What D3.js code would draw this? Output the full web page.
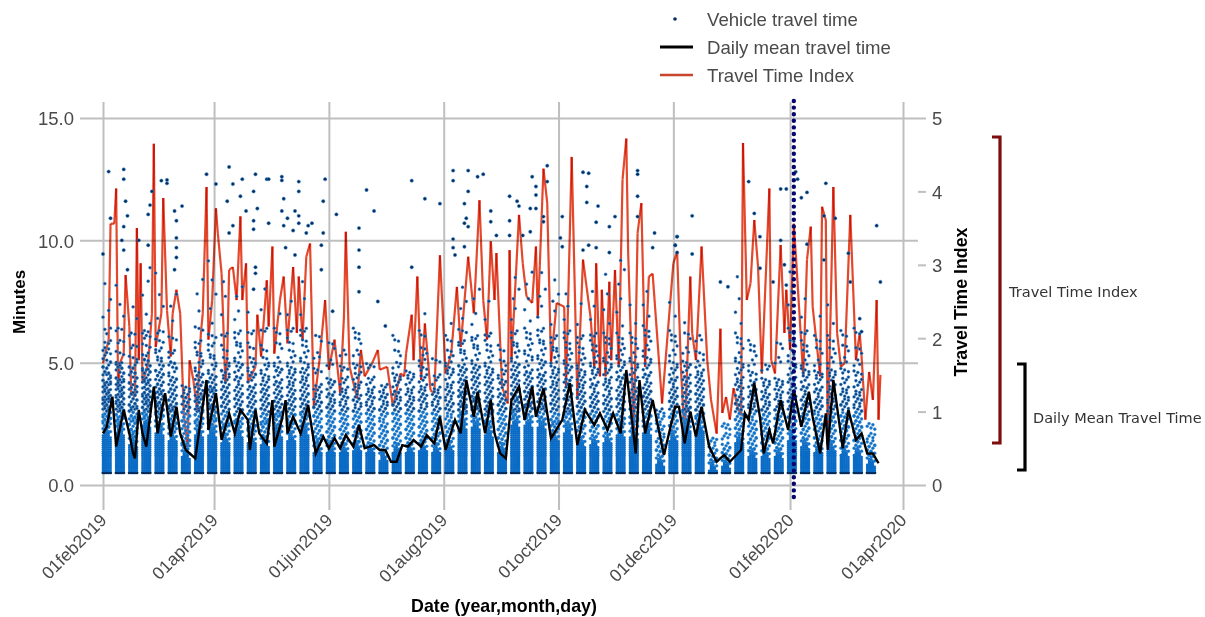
<!DOCTYPE html>
<html>
<head>
<meta charset="utf-8">
<script src="https://cdn.jsdelivr.net/npm/d3@7"></script>
<style>
  html, body { margin: 0; padding: 0; background: #fff; }
  svg { display: block; filter: blur(0.55px); }
  text { font-family: "Liberation Sans", Arial, sans-serif; }
</style>
</head>
<body>
<div id="chart"></div>
<script>
const width = 1205, height = 617;

// tick labels
const dateTicks = ["01feb2019","01apr2019","01jun2019","01aug2019","01oct2019","01dec2019","01feb2020","01apr2020"];
const minuteTicks = [0, 5, 10, 15];
const indexTicks = [0, 1, 2, 3, 4, 5];
const markerDay = 367; // dotted vertical line

// Travel Time Index (days after 01feb2019)
const ttiDays = [0,3,4,6,7,8,9,11,12,14,15,17,18,19,20,21,24,26,27,28,31,32,34,36,37,39,41,43,45,46,48,50,52,53,55,56,58,60,61,63,65,66,67,69,71,73,74,76,77,81,82,84,87,88,90,91,94,96,98,101,103,104,106,108,110,112,115,118,120,123,126,128,129,131,135,137,139,143,146,147,151,154,158,160,161,164,165,167,169,171,174,176,179,182,185,188,190,194,197,200,202,204,206,208,209,212,215,216,217,221,223,225,228,230,231,234,236,238,241,245,246,249,252,255,259,261,262,264,265,267,269,270,272,274,276,278,279,282,284,286,288,290,292,297,303,305,307,309,312,313,315,318,321,323,326,328,329,331,333,335,337,339,340,342,344,346,348,350,354,355,357,360,362,363,365,367,369,372,374,376,377,381,382,384,385,388,390,392,394,397,400,402,403,405,407,409,411,412,413];
const ttiValues = [1.66,1.98,3.56,3.56,4.04,1.34,1.66,1.79,2.86,2.16,1.25,1.2,3.5,1.7,3.02,1.39,1.66,2.34,4.65,1.88,2.34,3.91,2.38,1.75,2.34,2.66,2.34,0.93,0.52,1.7,1.43,1.02,2.07,2.34,4.06,1.98,2.52,3.77,3.43,2.88,1.39,1.75,2.93,2.97,2.52,3.66,2.52,3.02,1.39,1.61,2.32,1.75,2.79,2.16,3.25,1.79,2.52,2.84,1.93,2.97,2.07,2.84,1.98,3.11,3.29,1.07,1.7,2.52,1.57,1.98,1.25,2.29,3.45,1.61,1.18,1.84,1.48,1.66,1.84,1.57,1.61,1.07,1.52,1.48,1.79,2.32,1.7,2.84,1.43,2.2,1.29,1.25,3.13,1.52,1.79,2.7,1.88,3.11,2.34,3.88,2.52,1.98,3.32,2.52,3.16,1.34,1.11,3.2,1.7,3.68,3.02,2.57,2.48,3.25,2.29,4.31,3.84,1.66,2.48,2.43,1.34,4.47,1.16,3.07,2.29,1.61,3.02,1.48,2.66,1.48,2.77,1.7,2.93,1.61,4.16,4.72,3.16,0.7,3.43,3.84,1.61,2.84,2.88,1.11,3.02,3.18,1.61,0.61,2.84,2.07,1.7,3.25,1.7,1.16,0.7,2.13,0.98,1.2,0.89,1.32,1.07,0.95,4.66,2.52,2.75,3.61,2.97,1.52,4.04,1.7,1.52,3.27,2.07,2.66,1.84,3.56,2.75,1.48,3.07,3.52,2.43,1.48,3.79,3.61,0.57,4.06,2.07,1.61,1.66,3.68,1.7,2.07,1.75,0.89,1.54,1.16,2.52,0.89,1.5];

// Daily mean travel time (minutes)
const meanDays = [0,2,5,7,11,14,16,17,19,21,23,27,29,33,36,39,41,44,49,55,56,60,63,67,70,73,77,78,81,83,87,90,91,95,97,98,101,105,109,113,117,120,123,126,129,133,136,139,144,147,150,153,156,159,162,165,169,172,176,179,182,187,190,193,197,199,203,206,208,211,214,217,221,224,228,230,234,238,244,248,252,256,261,264,268,271,275,278,283,285,288,292,298,304,306,309,312,315,318,322,326,330,333,339,341,343,346,349,351,354,356,360,364,367,371,375,377,381,384,385,388,393,396,400,403,406,409,412];
const meanValues = [2.11,2.38,3.61,1.57,3.07,2.11,1.29,1.09,3.07,2.11,1.57,4.02,2.11,3.75,1.98,3.2,2.11,1.43,1.09,4.29,2.25,3.75,1.84,2.93,2.11,3.07,2.66,1.43,3.07,2.11,1.7,3.47,1.57,2.66,3.47,2.11,2.79,2.11,3.27,1.29,1.98,1.5,1.91,1.5,2.04,1.57,2.45,1.5,1.63,1.43,1.43,0.95,0.95,1.63,1.57,1.84,1.57,2.04,1.7,2.79,1.43,2.66,2.11,4.29,2.79,3.81,2.11,3.47,2.11,1.29,1.09,3.47,4.02,2.66,4.02,2.79,3.95,1.91,2.66,4.16,1.63,3.07,2.45,2.93,2.25,2.93,2.11,4.7,1.29,4.29,2.11,3.47,1.23,3.2,3.2,1.7,3,1.98,3.2,1.57,0.95,1.23,0.95,1.43,2.93,2.66,4.16,2.79,1.29,2.25,1.7,3.47,2.25,3.88,2.38,3.81,2.79,1.29,2.93,1.43,4.29,1.5,3.07,1.84,2.11,1.29,1.29,0.89];

// Vehicle travel times: solid band at the bottom of each weekly column
const baseLevels = [0.5,0.58,0.66,0.74,0.82,0.9,0.98,1.06,1.14,1.22,1.3,1.38,1.46,1.54,1.62,1.7,1.78,1.86,1.94,2.02,2.1,2.18,2.26,2.34,2.42,2.5,2.58];
const baseTop = [2.2,2.3,1.8,2.6,2.3,2.0,1.3,2.2,2.2,1.9,2.2,1.9,1.8,2.2,2.0,2.3,1.5,1.5,1.5,1.6,1.5,1.2,1.5,1.5,1.6,1.5,1.6,2.5,2.5,2.2,1.5,2.6,2.6,2.5,2.0,2.3,1.8,1.8,1.9,2.2,2.1,2.3,1.0,2.0,2.4,2.4,0.8,0.9,1.9,1.3,1.3,1.3,2.0,1.7,1.5,1.6,1.4,1.4,1.0];
const weekDays = [0,1,2,3,4];
const dayTopShift = [-0.15,0.1,0.2,0,-0.2];

// Vehicle travel times: scattered trips of each weekly column
const dayCycle = [1,4,2,0,3,4,1,3,0,2];
const dayWave = [0,0.11,-0.07,0.06,-0.12];
const weekTrips = [
  [2.3,2.5,2.6,2.8,2.9,3.1,3.2,3.4,3.5,3.6,3.8,3.9,4.1,4.2,4.4,4.5,4.7,4.9,5.1,5.3,5.5,5.9,6.3,6.8,7.2,7.7,8.3],
  [2.4,2.5,2.7,2.8,3.0,3.1,3.3,3.4,3.6,3.7,3.9,4.0,4.2,4.3,4.5,4.7,4.9,5.0,5.4,5.8,6.3,6.9,7.5,8.1],
  [1.9,2.1,2.2,2.4,2.6,2.7,2.9,3.1,3.2,3.4,3.6,3.8,3.9,4.1,4.3,4.5,4.7,4.9,5.2,5.6,6.1,6.8,7.4],
  [2.7,2.8,3.0,3.1,3.3,3.4,3.6,3.7,3.9,4.0,4.2,4.3,4.5,4.7,4.8,5.0,5.2,5.4,5.7,6.0,6.2,6.6,7.1,7.7,8.4,9.0],
  [2.4,2.5,2.7,2.9,3.0,3.2,3.3,3.5,3.7,3.8,4.0,4.2,4.4,4.6,4.8,5.0,5.3,5.6,5.9,6.2,6.7,7.3,7.9,8.6],
  [2.1,2.3,2.4,2.6,2.7,2.9,3.1,3.2,3.4,3.6,3.8,4.0,4.2,4.4,4.7,4.9,5.1,5.5,6.0,6.6,7.2,7.8],
  [1.4,1.6,1.7,1.9,2.1,2.3,2.5,2.7,2.9,3.1,3.3,3.5,3.7,4.0],
  [2.3,2.5,2.6,2.8,3.0,3.1,3.3,3.5,3.6,3.8,4.0,4.2,4.4,4.6,4.9,5.2,5.5,5.9,6.4,7.0,7.7,8.4],
  [2.3,2.4,2.6,2.7,2.9,3.1,3.2,3.4,3.6,3.8,3.9,4.1,4.3,4.5,4.8,5.1,5.4,5.8,6.1,6.5,7.1,7.8,8.5,9.1],
  [2.0,2.2,2.4,2.5,2.7,2.9,3.1,3.3,3.5,3.7,3.9,4.1,4.3,4.6,4.8,5.1,5.6,6.2,6.9,7.6,8.2],
  [2.3,2.5,2.6,2.8,3.0,3.2,3.4,3.6,3.8,4.0,4.3,4.5,4.8,5.0,5.3,5.6,5.9,6.3,6.7,7.0,7.6,8.1],
  [2.0,2.2,2.3,2.5,2.7,2.9,3.1,3.3,3.5,3.7,3.9,4.1,4.4,4.6,4.9,5.1,5.7,6.3,7.0],
  [1.9,2.1,2.3,2.5,2.6,2.8,3.0,3.2,3.4,3.6,3.8,4.0,4.2,4.5,4.8,5.1,5.6,6.4,7.1,7.9],
  [2.3,2.4,2.6,2.8,2.9,3.1,3.3,3.5,3.7,3.9,4.1,4.3,4.6,4.8,5.1,5.7,6.3,7.0],
  [2.1,2.3,2.5,2.6,2.8,3.0,3.2,3.4,3.6,3.8,4.0,4.3,4.5,4.8,5.1,5.4,5.9,6.4,6.9,7.4],
  [2.4,2.5,2.7,2.9,3.0,3.2,3.4,3.6,3.8,4.0,4.2,4.5,4.7,5.0,5.3,5.6,6.0,6.4,6.9,7.5,8.2],
  [1.6,1.8,1.9,2.1,2.3,2.5,2.7,2.9,3.1,3.3,3.5,3.8,4.0,4.7,5.3,6.0],
  [1.6,1.7,1.9,2.1,2.3,2.5,2.7,2.9,3.1,3.3,3.6,3.8,4.1,4.3,5.0,5.7],
  [1.6,1.8,2.0,2.2,2.4,2.6,2.8,3.0,3.2,3.5,3.7,4.0,4.3,4.8,5.4],
  [1.7,1.9,2.1,2.3,2.5,2.7,2.9,3.1,3.4,3.6,3.9,4.2,4.5,4.9,5.4,5.9,6.3],
  [1.6,1.8,2.0,2.2,2.4,2.6,2.8,3.0,3.2,3.5,3.7,4.0,4.3,4.9],
  [1.3,1.5,1.7,1.9,2.1,2.3,2.5,2.8,3.0,3.2,3.5,3.7,4.0],
  [1.6,1.8,2.0,2.2,2.4,2.6,2.8,3.0,3.2,3.4,3.7,3.9,4.2,4.5,4.9,5.4,6.0],
  [1.6,1.8,2.0,2.2,2.4,2.6,2.8,3.0,3.2,3.4,3.7,4.0,4.3,4.6],
  [1.7,1.9,2.1,2.3,2.5,2.7,2.9,3.1,3.4,3.6,3.8,4.1,4.4,4.8,5.2,5.5,6.2,7.0],
  [1.6,1.8,2.0,2.2,2.4,2.6,2.8,3.0,3.2,3.5,3.7,4.0,4.4,5.1],
  [1.7,1.9,2.1,2.3,2.5,2.7,3.0,3.2,3.4,3.7,3.9,4.2,4.5,4.8,5.1,5.4,6.0,6.6],
  [2.6,2.7,2.9,3.0,3.2,3.3,3.5,3.7,3.8,4.0,4.2,4.4,4.6,4.8,5.0,5.3,5.6,5.9,6.3,6.7,7.1,7.5,8.2],
  [2.6,2.7,2.9,3.1,3.2,3.4,3.5,3.7,3.9,4.1,4.3,4.5,4.7,4.9,5.2,5.5,5.8,6.1,6.5,6.9,7.5,8.0],
  [2.3,2.5,2.6,2.8,3.0,3.1,3.3,3.5,3.7,3.9,4.1,4.3,4.5,4.8,5.1,5.4,5.8,6.2,6.7,7.4],
  [1.6,1.8,2.0,2.2,2.4,2.6,2.8,3.0,3.2,3.4,3.6,3.8,4.1,4.3,4.6,5.0,5.6],
  [2.7,2.8,3.0,3.1,3.3,3.5,3.6,3.8,4.0,4.2,4.4,4.6,4.8,5.0,5.3,5.6,5.9,6.3,6.7,7.1,7.5,8.0,8.6],
  [2.7,2.8,3.0,3.2,3.3,3.5,3.7,3.9,4.1,4.3,4.5,4.7,5.0,5.3,5.6,5.9,6.3,6.7,7.1,7.5,8.1,8.7],
  [2.6,2.7,2.9,3.1,3.2,3.4,3.6,3.8,4.0,4.2,4.4,4.6,4.9,5.1,5.4,5.7,6.0,6.4,6.8,7.2,7.6,8.0,8.8],
  [2.1,2.3,2.5,2.6,2.8,3.0,3.2,3.4,3.6,3.8,4.0,4.3,4.5,4.8,5.1,5.4,5.7,6.1,6.5,7.0,7.4,7.8,8.5],
  [2.4,2.5,2.7,2.9,3.0,3.2,3.4,3.6,3.8,4.0,4.2,4.4,4.7,4.9,5.2,5.5,5.9,6.3,6.7,7.2,7.7],
  [1.9,2.1,2.3,2.5,2.7,2.9,3.1,3.3,3.5,3.7,3.9,4.2,4.4,4.7,5.0,5.3,5.7,6.1,6.5,7.3],
  [1.9,2.1,2.3,2.5,2.7,2.9,3.1,3.3,3.5,3.7,4.0,4.2,4.5,4.8,5.1,5.4,5.8,6.2,6.7,7.2,7.8],
  [2.0,2.2,2.4,2.6,2.8,3.0,3.2,3.4,3.6,3.9,4.1,4.4,4.7,5.0,5.3,5.7,6.1,6.6,7.1,7.7,8.5],
  [2.3,2.5,2.6,2.8,3.0,3.2,3.4,3.6,3.8,4.0,4.3,4.5,4.8,5.1,5.4,5.7,6.1,6.5,7.0,7.5,8.1,8.8,9.3],
  [2.2,2.4,2.6,2.7,2.9,3.1,3.3,3.5,3.7,3.9,4.2,4.4,4.7,5.0,5.3,5.7,6.1,6.6,7.3],
  [2.4,2.5,2.7,2.9,3.1,3.3,3.5,3.7,3.9,4.1,4.4,4.6,4.9,5.2,5.6,6.0,6.4,6.9,7.3,7.8],
  [1.1,1.3,1.5,1.7,1.9,2.2,2.4,2.7,3.0],
  [2.1,2.3,2.5,2.7,2.9,3.1,3.3,3.5,3.7,3.9,4.2,4.4,4.7,5.0,5.4,5.8,6.2,6.9,7.4],
  [2.5,2.6,2.8,3.0,3.1,3.3,3.5,3.7,3.9,4.1,4.3,4.5,4.8,5.0,5.5,6.1,6.7],
  [2.5,2.7,2.8,3.0,3.2,3.4,3.6,3.8,4.0,4.2,4.4,4.7,5.0,5.4,6.0],
  [0.9,1.1,1.3,1.5,1.8],
  [1.0,1.2,1.4,1.6,2.0,2.4],
  [2.0,2.2,2.4,2.6,2.8,3.0,3.2,3.4,3.6,3.9,4.1,4.4,4.7,5.0,5.3,5.7,6.1,6.6,7.0,7.5,8.4],
  [1.4,1.6,1.8,2.0,2.2,2.4,2.6,2.9,3.1,3.4,3.6,3.9,4.2,4.6,5.0,5.4,5.8],
  [1.4,1.6,1.8,2.0,2.2,2.4,2.6,2.8,3.0,3.2,3.5,3.7,4.0,4.3,4.8],
  [1.4,1.6,1.8,2.0,2.2,2.4,2.6,2.8,3.0,3.2,3.5,3.8,4.0,4.3,5.1,5.7],
  [2.1,2.3,2.5,2.7,2.9,3.1,3.3,3.5,3.7,3.9,4.2,4.4,4.7,5.0,5.4,5.8,6.3,6.8,7.3,7.8,8.6],
  [1.8,2.0,2.2,2.4,2.6,2.8,3.0,3.2,3.4,3.6,3.9,4.1,4.4,4.7,5.0,5.4,5.8,6.3,6.8,7.5],
  [1.6,1.8,2.0,2.2,2.4,2.6,2.8,3.1,3.3,3.5,3.8,4.0,4.3,4.6,5.0,5.5,6.0,6.9],
  [1.7,1.9,2.1,2.3,2.5,2.7,2.9,3.1,3.3,3.6,3.8,4.1,4.4,4.7,5.1,5.5,6.0,6.6,7.3],
  [1.5,1.7,1.9,2.1,2.3,2.5,2.7,2.9,3.2,3.4,3.7,4.0,4.3,4.7,5.1,5.6,6.2],
  [1.5,1.7,1.9,2.1,2.3,2.5,2.7,2.9,3.1,3.4,3.6,3.9,4.2,4.6,5.0,5.5,6.3],
  [1.1,1.3,1.5,1.7,2.0,2.4]
];

// Vehicle travel times: isolated high trips
const highDays = [0,3,4,11,11,12,13,11,10,11,13,24,25,26,31,34,34,38,42,39,39,39,39,38,24,19,55,60,67,69,74,81,80,73,66,82,76,69,80,80,88,67,87,88,95,95,104,104,96,95,102,98,104,104,96,101,109,111,108,118,117,124,117,116,116,140,144,136,136,136,136,146,150,122,102,97,81,81,80,164,164,171,179,186,186,194,194,199,202,192,193,192,194,206,206,209,216,216,220,221,227,230,228,230,230,236,236,234,234,186,186,192,187,216,223,227,244,243,244,255,258,257,257,263,262,258,255,262,269,272,269,284,284,284,284,293,292,305,304,343,360,363,369,371,374,384,368,411,413,328,332,313,313,305,304,305,349,360,374,362,349,346,383,389,383,396,397,363,356,402,403];
const highMinutes = [9.44,12.81,10.9,12.9,12.5,11.6,11,10.56,10,9.6,8.8,11.06,11.44,12,12.44,12.47,12.33,11.2,11.4,10.8,10.1,9.7,9.3,8.8,9.8,10,12.7,12.3,13,12.3,12.5,12.7,12,11.8,11.6,11.3,11.2,10.6,10.8,10.45,10.7,10.3,12.5,12.5,12.6,12.45,12.4,12,11.7,11.2,11.2,10.9,11,10.7,10.6,10.4,10.6,10.7,10.3,12.5,11.6,11.06,10.3,9.8,8.8,12.06,11.2,10.5,9.6,8.9,7.9,7.5,6.5,7.1,9.4,9.7,8.9,8.65,8,12.44,8.9,11.7,11.5,12.85,12.44,12.85,12,12.6,12.7,11.5,10.9,10.7,10.56,11.2,10.76,10.2,11.8,10.8,11.6,11.4,11.3,11.3,12.6,12.2,11.85,13.05,12.4,10.97,10.76,10.05,9.7,9.74,9.4,10.2,10.2,10.35,10.97,10.1,9.74,12.78,12.74,12.2,11.55,11.4,10.74,9.8,9.6,9.7,10.56,10.97,9.5,12.85,12.7,11.8,10.97,10.3,9.7,10.15,9.8,12.4,12.1,12.1,12.5,11.74,11.96,12.33,12.8,10.6,8.3,8.3,8.1,11,9.44,10.15,9.8,9.5,10.15,10,9.84,9,8.86,11.1,11,10.9,9.2,9.47,8.3,8.17,8.3,6.8,6.27];

const colors = {
  grid: "#bfbfbf", tick: "#4a4a4a", base: "#0a6cc6", trip: "#0a3f80", halo: "#3f8fd0",
  navy: "#062c5e", mean: "#000000", tti: "#e4482c", marker: "#06066e",
  bracketRed: "#7d0c0c"
};

const startDate = new Date(2019, 1, 1);
const toDate = d => d3.timeDay.offset(startDate, d);
const tickDate = d3.timeParse("%d%b%Y");

const x = d3.scaleTime()
  .domain([startDate, new Date(2020, 3, 1)])
  .range([103, 903]);
const yLeft = d3.scaleLinear().domain([0, 15]).range([485, 118]);
const yRight = d3.scaleLinear().domain([0, 5]).range([485, 118]);

const svg = d3.select("#chart").append("svg")
  .attr("width", width)
  .attr("height", height);

// vertical grid + date ticks
const xAxis = svg.append("g")
  .attr("transform", "translate(0,510)")
  .call(d3.axisBottom(x)
    .tickValues(dateTicks.map(s => tickDate(s)))
    .tickFormat(d3.timeFormat("%d%b%Y"))
    .tickSize(-408));
xAxis.select(".domain").remove();
xAxis.selectAll("line").attr("stroke", colors.grid).attr("stroke-width", 2);
xAxis.selectAll("text")
  .text((d, i) => dateTicks[i])
  .attr("fill", colors.tick)
  .attr("font-size", 17.6)
  .attr("text-anchor", "end")
  .attr("transform", "rotate(-45)")
  .attr("x", -5)
  .attr("dx", 0)
  .attr("y", 11)
  .attr("dy", 0);

// horizontal grid + left labels
const leftAxis = svg.append("g")
  .attr("transform", "translate(80,0)")
  .call(d3.axisLeft(yLeft)
    .tickValues(minuteTicks)
    .tickFormat(d3.format(".1f"))
    .tickSize(-838));
leftAxis.select(".domain").remove();
leftAxis.selectAll("line").attr("stroke", colors.grid).attr("stroke-width", 2);
leftAxis.selectAll("text")
  .attr("fill", colors.tick)
  .attr("font-size", 18.5)
  .attr("x", -6)
  .attr("y", 1);

// right axis
const rightAxis = svg.append("g")
  .attr("transform", "translate(918,0)")
  .call(d3.axisRight(yRight)
    .tickValues(indexTicks)
    .tickFormat(d3.format("d"))
    .tickSize(8));
rightAxis.select(".domain").remove();
rightAxis.selectAll("line").attr("stroke", colors.grid).attr("stroke-width", 2);
rightAxis.selectAll("text")
  .attr("fill", colors.tick)
  .attr("font-size", 18.5)
  .attr("x", 14)
  .attr("y", 1);

// index line sits under the trips, each segment on its own so that spikes darken
svg.append("g").selectAll("path")
  .data(d3.pairs(ttiDays.map((d, i) => [x(toDate(d)), yRight(ttiValues[i])])))
  .join("path")
  .attr("d", d => d3.line()(d))
  .attr("fill", "none")
  .attr("stroke", colors.tti)
  .attr("stroke-width", 2.2)
  .style("mix-blend-mode", "multiply");

// solid band
const basePoints = [];
baseTop.forEach((top, w) => {
  weekDays.forEach(d => {
    baseLevels.filter(v => v <= top + dayTopShift[d]).forEach(v => {
      basePoints.push({day: 7 * w + d, v: v});
    });
  });
});
svg.append("g").selectAll("circle")
  .data(basePoints)
  .join("circle")
  .attr("cx", d => x(toDate(d.day)))
  .attr("cy", d => yLeft(d.v))
  .attr("r", d => d.v === 0.5 ? 1.6 : 1.35)
  .attr("fill", d => d.v === 0.5 ? colors.navy : colors.base);

// scattered trips: the lower a trip level the more days of the week it shows on,
// and each day sits a little off the level
const tripPoints = [];
weekTrips.forEach((trips, w) => {
  trips.forEach((v, i) => {
    const copies = v < 3.8 ? 5 : v < 5 ? 4 : v < 6.5 ? 3 : 1;
    d3.range(copies).forEach(c => {
      const d = weekDays[(dayCycle[i % 10] + c * 2) % 5];
      tripPoints.push({day: 7 * w + d, v: v + dayWave[(d + i) % 5]});
    });
  });
});
svg.append("g").selectAll("circle")
  .data(tripPoints)
  .join("circle")
  .attr("cx", d => x(toDate(d.day)))
  .attr("cy", d => yLeft(d.v))
  .attr("r", 1.45)
  .attr("fill", d => d.v < 3 ? colors.base : colors.trip)
  .attr("stroke", colors.halo)
  .attr("stroke-width", 0.5);

svg.append("g").selectAll("circle")
  .data(highDays)
  .join("circle")
  .attr("cx", d => x(toDate(d)))
  .attr("cy", (d, i) => yLeft(highMinutes[i]))
  .attr("r", 1.7)
  .attr("fill", colors.navy)
  .attr("stroke", colors.halo)
  .attr("stroke-width", 0.5);

// daily mean line
const meanLine = d3.line()
  .x(d => x(toDate(d)))
  .y((d, i) => yLeft(meanValues[i]));
svg.append("path")
  .attr("d", meanLine(meanDays))
  .attr("fill", "none")
  .attr("stroke", colors.mean)
  .attr("stroke-width", 2.4);

// marker line
svg.append("line")
  .attr("x1", x(toDate(markerDay)))
  .attr("x2", x(toDate(markerDay)))
  .attr("y1", 101)
  .attr("y2", 501)
  .attr("stroke", colors.marker)
  .attr("stroke-width", 4.4)
  .attr("stroke-linecap", "round")
  .attr("stroke-dasharray", "0 6.6");

// axis titles
svg.append("text")
  .attr("transform", "translate(25,302) rotate(-90)")
  .attr("text-anchor", "middle")
  .attr("font-size", 17)
  .attr("fill", "#000")
  .style("font-weight", 600)
  .text("Minutes");
svg.append("text")
  .attr("x", 504).attr("y", 612)
  .attr("text-anchor", "middle")
  .attr("font-size", 17.8)
  .attr("fill", "#000")
  .style("font-weight", 600)
  .text("Date (year,month,day)");
svg.append("text")
  .attr("transform", "translate(967,302) rotate(-90)")
  .attr("text-anchor", "middle")
  .attr("font-size", 17.8)
  .attr("fill", "#000")
  .style("font-weight", 600)
  .text("Travel Time Index");

// legend
const legend = svg.append("g");
legend.append("circle").attr("cx", 675).attr("cy", 19).attr("r", 1.8).attr("fill", colors.navy);
legend.append("line").attr("x1", 660).attr("x2", 693).attr("y1", 47).attr("y2", 47)
  .attr("stroke", colors.mean).attr("stroke-width", 2.8);
legend.append("line").attr("x1", 660).attr("x2", 693).attr("y1", 75).attr("y2", 75)
  .attr("stroke", "#c8442c").attr("stroke-width", 2.4);
legend.selectAll("text")
  .data(["Vehicle travel time", "Daily mean travel time", "Travel Time Index"])
  .join("text")
  .attr("x", 707)
  .attr("y", (d, i) => 26 + i * 28)
  .attr("font-size", 18.6)
  .attr("fill", colors.tick)
  .text(d => d);

// brackets on the right
function bracket(x1, x2, y1, y2, color) {
  svg.append("path")
    .attr("d", `M${x1},${y1}H${x2}V${y2}H${x1}`)
    .attr("fill", "none")
    .attr("stroke", color)
    .attr("stroke-width", 3.2);
}
bracket(992, 1000, 137, 443, colors.bracketRed);
bracket(1017, 1025, 364, 470, "#000");
svg.append("text").attr("x", 1009).attr("y", 297)
  .attr("font-size", 14.6).attr("fill", "#333")
  .style("font-family", "DejaVu Sans")
  .text("Travel Time Index");
svg.append("text").attr("x", 1033).attr("y", 423)
  .attr("font-size", 14.5).attr("fill", "#333")
  .style("font-family", "DejaVu Sans")
  .text("Daily Mean Travel Time");
</script>
</body>
</html>
